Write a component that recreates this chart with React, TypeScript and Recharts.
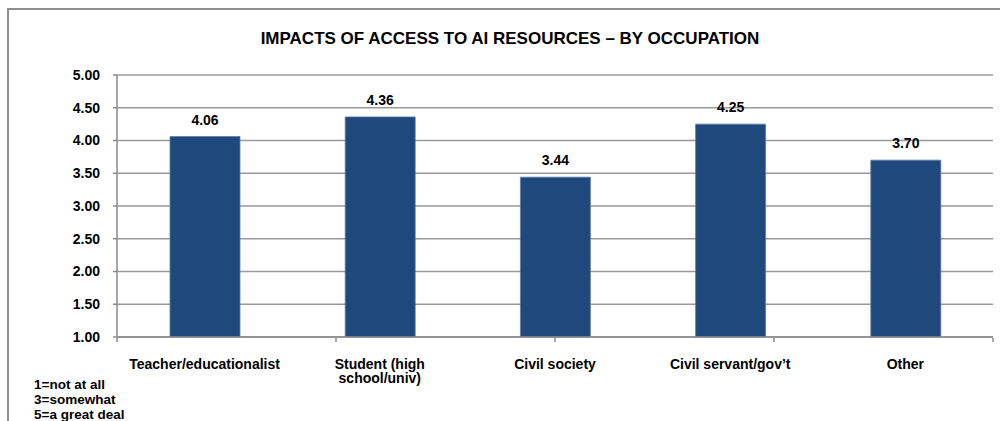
import React from "react";
import { BarChart, Bar, XAxis, YAxis, CartesianGrid, LabelList, Text } from "recharts";

const categories = [
  "Teacher/educationalist",
  "Student (high school/univ)",
  "Civil society",
  "Civil servant/gov\u2019t",
  "Other",
];
const values = [4.06, 4.36, 3.44, 4.25, 3.7];
const yTicks = [1, 1.5, 2, 2.5, 3, 3.5, 4, 4.5, 5];
const edgeTicks = [0, 1, 2, 3, 4, 5];
const title = "IMPACTS OF ACCESS TO AI RESOURCES \u2013 BY OCCUPATION";
const noteLines = ["1=not at all", "3=somewhat", "5=a great deal"];

const data = categories.map((name, i) => ({ name, value: values[i] }));

const FONT = "'Liberation Sans', Arial, Helvetica, sans-serif";

const CatTick = (props: any) => {
  const { x, y, payload } = props;
  return (
    <Text
      x={x}
      y={y + 22}
      width={160}
      textAnchor="middle"
      verticalAnchor="start"
      lineHeight={14}
      style={{ fontFamily: FONT, fontSize: 14, fontWeight: "bold", fill: "#000" }}
    >
      {payload.value}
    </Text>
  );
};

export default function App() {
  return (
    <div
      style={{
        position: "absolute",
        left: 0,
        top: 0,
        width: 1000,
        height: 421,
        overflow: "hidden",
        background: "#fff",
        fontFamily: FONT,
      }}
    >
      <div
        style={{
          position: "absolute",
          left: 7,
          top: 8,
          width: 1020,
          height: 500,
          border: "2px solid #8e8e8e",
          boxSizing: "border-box",
        }}
      />
      <div
        style={{
          position: "absolute",
          left: 210,
          width: 600,
          top: 29,
          textAlign: "center",
          fontSize: 17,
          fontWeight: "bold",
          color: "#000",
          lineHeight: "20px",
        }}
      >
        {title}
      </div>
      <div
        style={{
          position: "absolute",
          left: 34,
          top: 377,
          fontSize: 13.5,
          fontWeight: "bold",
          color: "#000",
          lineHeight: "15px",
        }}
      >
        {noteLines.map((l) => (
          <div key={l}>{l}</div>
        ))}
      </div>
      <div style={{ position: "absolute", left: 0, top: 0 }}>
        <BarChart
          width={1000}
          height={421}
          data={data}
          margin={{ top: 75, right: 7, left: 57, bottom: 82 }}
        >
          <CartesianGrid vertical={false} stroke="#9a9a9a" strokeWidth={1.5} />
          <XAxis
            xAxisId="cat"
            dataKey="name"
            height={1}
            interval={0}
            axisLine={{ stroke: "#8a8a8a", strokeWidth: 1.5 }}
            tickLine={false}
            tickSize={0}
            tickMargin={0}
            tick={<CatTick />}
          />
          <XAxis
            xAxisId="edge"
            type="number"
            domain={[0, 5]}
            ticks={edgeTicks}
            interval={0}
            allowDataOverflow
            height={1}
            axisLine={false}
            tickLine={{ stroke: "#8a8a8a", strokeWidth: 1.5 }}
            tickSize={4}
            tickFormatter={() => ""}
          />
          <YAxis
            type="number"
            domain={[1, 5]}
            ticks={yTicks}
            interval={0}
            allowDataOverflow
            width={60}
            axisLine={{ stroke: "#8a8a8a", strokeWidth: 1.5 }}
            tickLine={{ stroke: "#8a8a8a", strokeWidth: 1.5 }}
            tickSize={4}
            tickMargin={13}
            tickFormatter={(v: number) => v.toFixed(2)}
            tick={{ fontFamily: FONT, fontSize: 14, fontWeight: "bold", fill: "#000" }}
          />
          <Bar
            xAxisId="cat"
            dataKey="value"
            fill="#1F497D"
            stroke="#5b7eab"
            strokeWidth={0.8}
            barSize={70}
            isAnimationActive={false}
          >
            <LabelList
              dataKey="value"
              position="top"
              offset={12}
              formatter={(v: any) => Number(v).toFixed(2)}
              style={{ fontFamily: FONT, fontSize: 14, fontWeight: "bold", fill: "#000" }}
            />
          </Bar>
        </BarChart>
      </div>
    </div>
  );
}
